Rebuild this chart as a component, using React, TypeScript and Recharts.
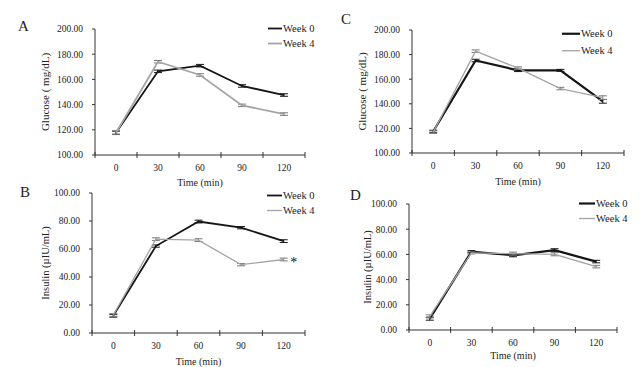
import React from 'react';
import { LineChart, Line, XAxis, YAxis, ErrorBar, Legend, LabelList } from 'recharts';

const timePoints = [0, 30, 60, 90, 120];
const xTicks = [-15, 0, 15, 30, 45, 60, 75, 90, 105, 120, 135];
const glucoseTicks = [100, 120, 140, 160, 180, 200];
const insulinTicks = [0, 20, 40, 60, 80, 100];

const glucoseA_week0 = [117.7, 166.4, 170.9, 154.8, 147.6];
const glucoseA_week4 = [117.7, 174.0, 163.5, 139.4, 132.5];
const glucoseA_err0 = [1.2, 1.0, 1.0, 1.0, 1.0];
const glucoseA_err4 = [1.5, 1.0, 1.0, 1.0, 1.0];

const insulinB_week0 = [12.3, 62.1, 79.6, 75.2, 65.6];
const insulinB_week4 = [12.8, 67.0, 66.3, 48.8, 52.5];
const insulinB_err0 = [1.0, 0.8, 1.0, 0.8, 1.0];
const insulinB_err4 = [1.0, 1.0, 1.0, 0.8, 1.0];

const glucoseC_week0 = [117.5, 175.2, 167.2, 167.2, 142.0];
const glucoseC_week4 = [117.0, 182.8, 169.0, 152.4, 145.0];
const glucoseC_err0 = [1.0, 1.0, 1.0, 0.8, 1.5];
const glucoseC_err4 = [1.0, 1.0, 1.0, 1.0, 1.5];

const insulinD_week0 = [9.0, 62.2, 59.3, 63.3, 54.3];
const insulinD_week4 = [10.8, 61.2, 60.6, 60.1, 50.3];
const insulinD_err0 = [1.2, 0.8, 1.2, 1.2, 1.0];
const insulinD_err4 = [1.2, 0.8, 1.2, 1.2, 1.0];

const SERIF = '"Liberation Serif", "Times New Roman", serif';
const BLACK = '#151515';
const GREY = '#a4a4a4';
const AXIS = '#333';

const build = (w0: number[], w4: number[], e0: number[], e4: number[]) =>
  timePoints.map((t, i) => ({ t, w0: w0[i], w4: w4[i], e0: e0[i], e4: e4[i] }));

const XTick = (props: any) => {
  const { x, y, payload } = props;
  const v = payload.value;
  if (v % 30 === 0) {
    return (
      <text x={x} y={y + 16} textAnchor="middle" fontSize={9.5} fill="#222" fontFamily={SERIF}>
        {v}
      </text>
    );
  }
  return <line x1={x} x2={x} y1={y - 3} y2={y + 3} stroke={AXIS} strokeWidth={1} />;
};

type PanelProps = {
  box: { x: number; y: number; w: number; h: number };
  plot: { left: number; right: number; top: number; bottom: number };
  rows: any[];
  domain: [number, number];
  ticks: number[];
  yLabel: string;
  yLabelX: number;
  yLabelSize: number;
  xLabelDy: number;
  legend: { x: number; y: number; lineLen: number; gap: number };
  letter: string;
  letterPos: { x: number; y: number };
  w0Width: number;
  w4Width: number;
  asterisk?: boolean;
};

const Panel = (p: PanelProps) => {
  const { box, plot } = p;
  const xAxisH = 20;
  const mid = (plot.top + plot.bottom) / 2;
  const LegendContent = () => (
    <div style={{ fontFamily: SERIF }}>
      {[
        { name: 'Week 0', color: BLACK, w: p.w0Width },
        { name: 'Week 4', color: GREY, w: p.w4Width },
      ].map((it) => (
        <div key={it.name} style={{ display: 'flex', alignItems: 'center', height: p.legend.gap }}>
          <svg width={p.legend.lineLen + 1} height={p.legend.gap} style={{ display: 'block' }}>
            <line x1={0} x2={p.legend.lineLen} y1={p.legend.gap / 2} y2={p.legend.gap / 2} stroke={it.color} strokeWidth={it.w} />
          </svg>
          <span
            style={{
              fontFamily: SERIF,
              fontWeight: 'normal',
              fontSize: 10.5,
              lineHeight: `${p.legend.gap}px`,
              color: '#222',
              whiteSpace: 'nowrap',
            }}
          >
            {it.name}
          </span>
        </div>
      ))}
    </div>
  );
  return (
    <div style={{ position: 'absolute', left: box.x, top: box.y, width: box.w, height: box.h }}>
      <LineChart
        width={box.w}
        height={box.h}
        data={p.rows}
        margin={{ top: plot.top, right: box.w - plot.right, left: 0, bottom: box.h - plot.bottom - xAxisH }}
      >
        <XAxis
          dataKey="t"
          type="number"
          domain={[-15, 135]}
          ticks={xTicks}
          interval={0}
          height={xAxisH}
          tickLine={false}
          tickSize={0}
          tickMargin={0}
          axisLine={{ stroke: AXIS }}
          tick={<XTick />}
          label={{
            content: () => (
              <text
                x={(plot.left + plot.right) / 2}
                y={plot.bottom + p.xLabelDy}
                textAnchor="middle"
                fontSize={10}
                fill="#222"
                fontFamily={SERIF}
              >
                Time (min)
              </text>
            ),
          }}
        />
        <YAxis
          type="number"
          domain={p.domain}
          ticks={p.ticks}
          interval={0}
          width={plot.left}
          tickSize={3}
          tickMargin={9}
          axisLine={{ stroke: AXIS }}
          tickLine={{ stroke: AXIS }}
          tickFormatter={(v: number) => v.toFixed(2)}
          tick={{ fontSize: 9.5, fill: '#222', fontFamily: SERIF }}
          label={{
            content: () => (
              <text
                transform={`translate(${p.yLabelX},${mid}) rotate(-90)`}
                textAnchor="middle"
                dominantBaseline="central"
                fontSize={p.yLabelSize}
                fill="#222"
                fontFamily={SERIF}
              >
                {p.yLabel}
              </text>
            ),
          }}
        />
        <Legend
          layout="vertical"
          align="center"
          verticalAlign="middle"
          wrapperStyle={{ left: p.legend.x, top: p.legend.y, width: 70, fontFamily: SERIF }}
          content={<LegendContent />}
        />
        <Line
          dataKey="w0"
          stroke={BLACK}
          strokeWidth={p.w0Width}
          dot={false}
          activeDot={false}
          isAnimationActive={false}
        >
          <ErrorBar dataKey="e0" width={4} stroke={BLACK} strokeWidth={1} direction="y" />
        </Line>
        <Line
          dataKey="w4"
          stroke={GREY}
          strokeWidth={p.w4Width}
          dot={false}
          activeDot={false}
          isAnimationActive={false}
        >
          <ErrorBar dataKey="e4" width={4} stroke={'#777'} strokeWidth={1} direction="y" />
          {p.asterisk ? (
            <LabelList
              dataKey="w4"
              content={(lp: any) =>
                lp.index === p.rows.length - 1 ? (
                  <text x={Number(lp.x) + 10} y={Number(lp.y) + 7} fontSize={14} fill="#111" fontFamily={SERIF} textAnchor="middle">
                    *
                  </text>
                ) : null
              }
            />
          ) : null}
        </Line>
      </LineChart>
      <div
        style={{
          position: 'absolute',
          left: p.letterPos.x - 5,
          top: p.letterPos.y - 7.6,
          fontSize: 15,
          lineHeight: '15px',
          fontFamily: SERIF,
          color: '#222',
        }}
      >
        {p.letter}
      </div>
    </div>
  );
};

export default function App() {
  return (
    <div style={{ position: 'absolute', left: 0, top: 0, width: 640, height: 367, background: '#fff', overflow: 'hidden', fontFamily: SERIF }}>
      <Panel
        box={{ x: 0, y: 0, w: 320, h: 190 }}
        plot={{ left: 95, right: 305, top: 29, bottom: 155 }}
        rows={build(glucoseA_week0, glucoseA_week4, glucoseA_err0, glucoseA_err4)}
        domain={[100, 200]}
        ticks={glucoseTicks}
        yLabel="Glucose ( mg/dL)"
        yLabelX={45}
        yLabelSize={11}
        xLabelDy={31}
        legend={{ x: 268, y: 20.5, lineLen: 14, gap: 15 }}
        letter="A"
        letterPos={{ x: 23, y: 26.5 }}
        w0Width={1.8}
        w4Width={1.8}
      />
      <Panel
        box={{ x: 320, y: 0, w: 320, h: 190 }}
        plot={{ left: 92, right: 304, top: 30, bottom: 153 }}
        rows={build(glucoseC_week0, glucoseC_week4, glucoseC_err0, glucoseC_err4)}
        domain={[100, 200]}
        ticks={glucoseTicks}
        yLabel="Glucose ( mg/dL)"
        yLabelX={42}
        yLabelSize={11}
        xLabelDy={32}
        legend={{ x: 242, y: 24.5, lineLen: 18, gap: 17.5 }}
        letter="C"
        letterPos={{ x: 26, y: 20 }}
        w0Width={2.2}
        w4Width={1.3}
      />
      <Panel
        box={{ x: 0, y: 170, w: 320, h: 197 }}
        plot={{ left: 92, right: 305, top: 23, bottom: 163 }}
        rows={build(insulinB_week0, insulinB_week4, insulinB_err0, insulinB_err4)}
        domain={[0, 100]}
        ticks={insulinTicks}
        yLabel="Insulin (µIU/mL)"
        yLabelX={45}
        yLabelSize={10.5}
        xLabelDy={32}
        legend={{ x: 267, y: 17.5, lineLen: 15, gap: 15 }}
        letter="B"
        letterPos={{ x: 25, y: 22.5 }}
        w0Width={1.8}
        w4Width={1.3}
        asterisk
      />
      <Panel
        box={{ x: 320, y: 170, w: 320, h: 197 }}
        plot={{ left: 89, right: 297, top: 34, bottom: 160 }}
        rows={build(insulinD_week0, insulinD_week4, insulinD_err0, insulinD_err4)}
        domain={[0, 100]}
        ticks={insulinTicks}
        yLabel="Insulin (µIU/mL)"
        yLabelX={47}
        yLabelSize={10.5}
        xLabelDy={28.5}
        legend={{ x: 259, y: 25.5, lineLen: 16, gap: 15 }}
        letter="D"
        letterPos={{ x: 35, y: 26 }}
        w0Width={2.2}
        w4Width={1.3}
      />
    </div>
  );
}
